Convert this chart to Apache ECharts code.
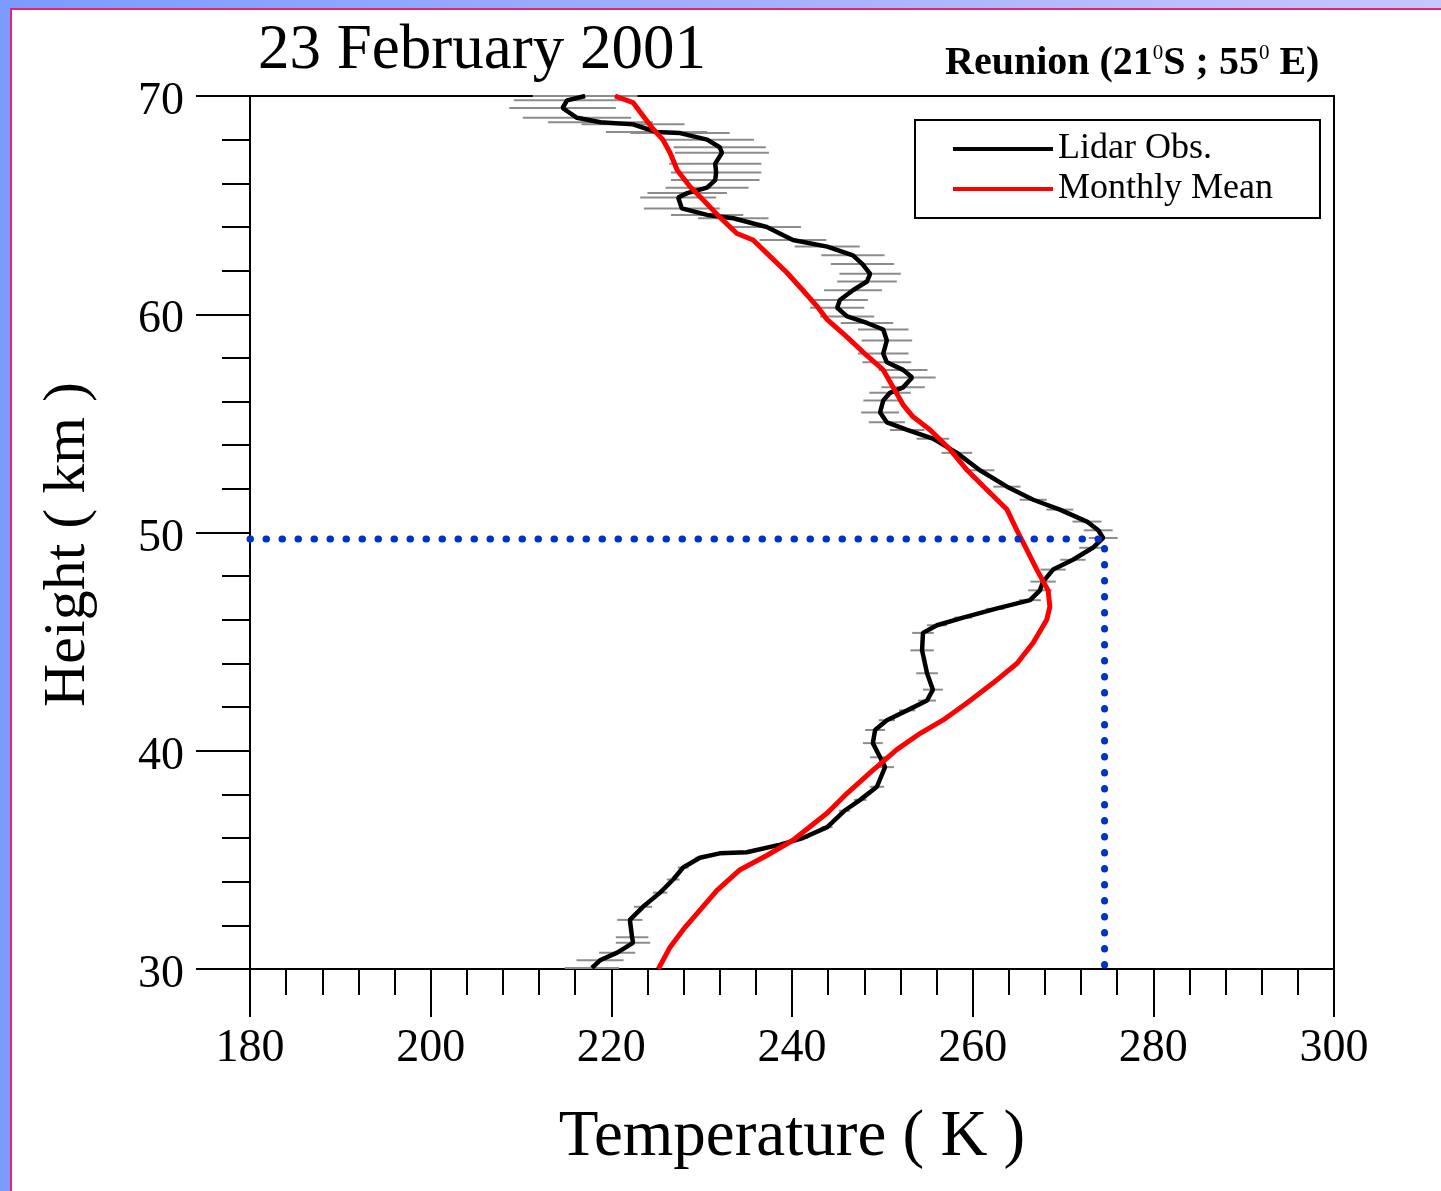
<!DOCTYPE html>
<html lang="en">
<head>
    <meta charset="UTF-8">
    <title>23 February 2001 - Reunion lidar temperature</title>
    <script src="https://cdn.jsdelivr.net/npm/echarts@6/dist/echarts.min.js"></script>
    <style>
        html, body {
            margin: 0;
            padding: 0;
            width: 1441px;
            height: 1191px;
            overflow: hidden;
            background: linear-gradient(90deg, #7b9bff, #c6c6ff);
        }
        #paper {
            position: absolute;
            left: 10px;
            top: 8px;
            right: 0;
            bottom: 0;
            background: #fff;
            border-left: 2px solid #f0206e;
            border-top: 2px solid #f0206e;
        }
        #container {
            position: absolute;
            left: 0;
            top: 0;
            width: 1441px;
            height: 1191px;
        }
    </style>
</head>
<body>
<div id="paper"></div>
<div id="container"></div>
<script>
    // temperature (K), height (km)
    var lidarObs = [
        [217.1, 70.0], [215.1, 69.8], [214.6, 69.45], [216.2, 69.0], [218.8, 68.8],
        [222.4, 68.7], [225.0, 68.35], [227.6, 68.3], [230.6, 68.0], [232.0, 67.65],
        [232.25, 67.4], [231.5, 66.9], [231.6, 66.5], [231.5, 66.15], [230.6, 65.8],
        [228.4, 65.55], [227.4, 65.35], [227.8, 64.85], [230.6, 64.55], [233.5, 64.4],
        [237.2, 64.0], [240.1, 63.4], [243.9, 63.1], [246.75, 62.7], [247.8, 62.3],
        [248.65, 61.85], [248.3, 61.5], [246.75, 61.1], [245.3, 60.65], [245.0, 60.3],
        [246.1, 59.9], [248.3, 59.6], [250.1, 59.3], [250.5, 58.8], [250.1, 58.2],
        [250.5, 57.8], [252.3, 57.45], [253.3, 57.1], [252.3, 56.65], [250.85, 56.4],
        [250.1, 56.05], [249.75, 55.5], [250.5, 55.05], [252.75, 54.7], [255.6, 54.3],
        [258.25, 53.65], [260.8, 52.85], [263.8, 52.1], [266.7, 51.5], [269.65, 51.05],
        [272.65, 50.5], [273.9, 50.1], [274.45, 49.75], [273.3, 49.3], [271.1, 48.75],
        [268.9, 48.3], [267.8, 47.75], [267.45, 47.35], [266.35, 46.9], [262.5, 46.5],
        [258.95, 46.1], [256.05, 45.75], [254.5, 45.4], [254.4, 44.6], [254.95, 43.55],
        [255.6, 42.8], [254.95, 42.3], [252.75, 41.85], [250.5, 41.4], [249.2, 40.95],
        [248.95, 40.35], [249.75, 39.7], [250.3, 39.25], [249.4, 38.35], [247.55, 37.75],
        [245.8, 37.25], [243.9, 36.5], [241.2, 36.0], [238.7, 35.7], [235.0, 35.35],
        [232.0, 35.3], [229.8, 35.1], [227.95, 34.65], [226.85, 34.1], [225.4, 33.5],
        [223.5, 32.85], [222.05, 32.25], [222.3, 31.45], [222.4, 31.2], [220.65, 30.75],
        [218.75, 30.4], [217.85, 30.05]
    ];

    // half width of the error bar (K) at each lidar point
    var lidarErr = [
        5.8, 5.9, 5.9, 6.0, 5.8,
        5.7, 5.6, 5.5, 5.2, 5.1,
        5.2, 5.1, 5.0, 4.9, 4.6,
        4.4, 4.2, 4.2, 4.0, 3.9,
        3.8, 3.7, 3.6, 3.5, 3.5,
        3.4, 3.3, 3.2, 3.1, 3.0,
        3.0, 2.9, 2.8, 2.8, 2.8,
        2.7, 2.7, 2.6, 2.4, 2.3,
        2.2, 2.1, 2.0, 1.9, 1.8,
        1.7, 1.6, 1.5, 1.5, 1.5,
        1.6, 1.6, 1.6, 1.5, 1.4,
        1.4, 1.4, 1.3, 1.2, 1.0,
        1.0, 1.1, 1.2, 1.3, 1.2,
        1.1, 1.0, 0.9, 0.9, 1.1,
        1.1, 1.1, 1.0, 0.8, 0.7,
        0.6, 0.6, 0.6, 0.5, 0.5,
        0.5, 0.5, 0.6, 0.7, 0.8,
        1.0, 1.4, 1.8, 1.9, 2.0,
        2.6, 3.0
    ];

    var monthlyMean = [
        [220.4, 70.0], [222.4, 69.7], [223.5, 69.1], [224.6, 68.5], [225.7, 68.0],
        [226.5, 67.4], [227.3, 66.6], [228.7, 65.85], [230.15, 65.25], [232.0, 64.45],
        [233.9, 63.7], [235.7, 63.4], [237.2, 62.8], [239.45, 61.9], [241.2, 61.1],
        [242.8, 60.35], [243.9, 59.75], [246.1, 58.95], [248.3, 58.1], [250.1, 57.45],
        [251.2, 56.65], [252.3, 55.85], [253.4, 55.3], [255.3, 54.7], [257.5, 53.8],
        [259.4, 52.85], [261.6, 51.95], [263.8, 51.05], [264.9, 50.1], [266.0, 49.2],
        [267.1, 48.3], [268.35, 47.35], [268.55, 46.6], [268.2, 46.0], [266.7, 44.95],
        [264.9, 44.0], [262.25, 43.1], [259.4, 42.2], [256.7, 41.4], [254.2, 40.8],
        [251.6, 40.05], [248.65, 39.0], [246.1, 38.05], [243.9, 37.15], [240.1, 35.9],
        [237.2, 35.2], [234.25, 34.55], [231.7, 33.6], [229.5, 32.55], [227.95, 31.8],
        [226.5, 31.0], [225.2, 30.0]
    ];

    // stratopause marker
    var peakTemp = 274.6;
    var peakHeight = 49.7;

    var tempMin = 180, tempMax = 300, tempStep = 20;
    var heightMin = 30, heightMax = 70, heightStep = 10;

    var serif = 'Liberation Serif, Times New Roman, serif';

    var errData = lidarObs.map(function (p, i) {
        return [p[0], p[1], lidarErr[i]];
    });

    var dom = document.getElementById('container');
    var myChart = echarts.init(dom, null, {renderer: 'canvas'});

    var option = {
        animation: false,
        backgroundColor: 'transparent',
        title: [{
            text: '23 February 2001',
            left: 253,
            top: 15,
            textStyle: {fontFamily: serif, fontSize: 63, fontWeight: 'normal', color: '#000'}
        }, {
            text: '{b|Reunion (21}{s|0}{b|S ; 55}{s|0}{b| E)}',
            left: 940,
            top: 38,
            textStyle: {
                rich: {
                    b: {fontFamily: serif, fontSize: 40, fontWeight: 'bold', color: '#000', lineHeight: 42},
                    s: {fontFamily: serif, fontSize: 21, fontWeight: 'normal', color: '#000', lineHeight: 20, verticalAlign: 'top'}
                }
            }
        }],
        legend: {
            data: ['Lidar Obs.', 'Monthly Mean'],
            orient: 'vertical',
            left: 915,
            top: 120,
            padding: [11, 47, 11, 38],
            itemGap: 4,
            itemWidth: 100,
            itemHeight: 4,
            itemTextGap: 12,
            icon: 'rect',
            borderColor: '#000',
            borderWidth: 2,
            backgroundColor: '#fff',
            textStyle: {fontFamily: serif, fontSize: 36, color: '#000', lineHeight: 34}
        },
        grid: {
            left: 250,
            right: 107,
            top: 96,
            bottom: 222,
            show: true,
            borderColor: '#000',
            borderWidth: 2,
            backgroundColor: 'transparent'
        },
        xAxis: {
            type: 'value',
            min: tempMin,
            max: tempMax,
            interval: tempStep,
            name: 'Temperature ( K )',
            nameLocation: 'middle',
            nameGap: 136,
            nameTextStyle: {fontFamily: serif, fontSize: 65, color: '#000'},
            axisLine: {lineStyle: {color: '#000', width: 2}},
            axisTick: {inside: false, length: 48, lineStyle: {color: '#000', width: 2}},
            minorTick: {show: true, splitNumber: 5, length: 26, lineStyle: {color: '#000', width: 2}},
            splitLine: {show: false},
            axisLabel: {fontFamily: serif, fontSize: 46, color: '#000', margin: 57}
        },
        yAxis: {
            type: 'value',
            min: heightMin,
            max: heightMax,
            interval: heightStep,
            name: 'Height ( km )',
            nameLocation: 'middle',
            nameGap: 152,
            nameRotate: 90,
            nameTextStyle: {fontFamily: serif, fontSize: 60, color: '#000', padding: [0, 24, 0, 0]},
            axisLine: {lineStyle: {color: '#000', width: 2}},
            axisTick: {inside: false, length: 54, lineStyle: {color: '#000', width: 2}},
            minorTick: {show: true, splitNumber: 5, length: 28, lineStyle: {color: '#000', width: 2}},
            splitLine: {show: false},
            axisLabel: {
                color: '#000',
                margin: 66,
                formatter: '{n|{value}}',
                rich: {n: {fontFamily: serif, fontSize: 46, color: '#000', padding: [12, 0, 0, 0]}}
            }
        },
        series: [{
            name: 'error',
            type: 'custom',
            z: 1,
            silent: true,
            data: errData,
            renderItem: function (params, api) {
                var t = api.value(0), h = api.value(1), e = api.value(2);
                var a = api.coord([t - e, h]);
                var b = api.coord([t + e, h]);
                return {
                    type: 'line',
                    shape: {x1: a[0], y1: a[1], x2: b[0], y2: b[1]},
                    style: {stroke: '#8c8c8c', lineWidth: 2}
                };
            }
        }, {
            name: 'Lidar Obs.',
            type: 'line',
            z: 2,
            data: lidarObs,
            showSymbol: false,
            color: '#000',
            lineStyle: {color: '#000', width: 4.5}
        }, {
            name: 'Monthly Mean',
            type: 'line',
            z: 3,
            data: monthlyMean,
            showSymbol: false,
            color: '#ff0000',
            lineStyle: {color: '#ff0000', width: 5}
        }, {
            name: 'peak',
            type: 'line',
            z: 4,
            data: [[tempMin, peakHeight], [peakTemp, peakHeight], [peakTemp, heightMin]],
            showSymbol: false,
            color: '#0033cc',
            lineStyle: {color: '#0033cc', width: 7, type: [0.5, 15.5], cap: 'round'}
        }]
    };

    myChart.setOption(option);
</script>
</body>
</html>
